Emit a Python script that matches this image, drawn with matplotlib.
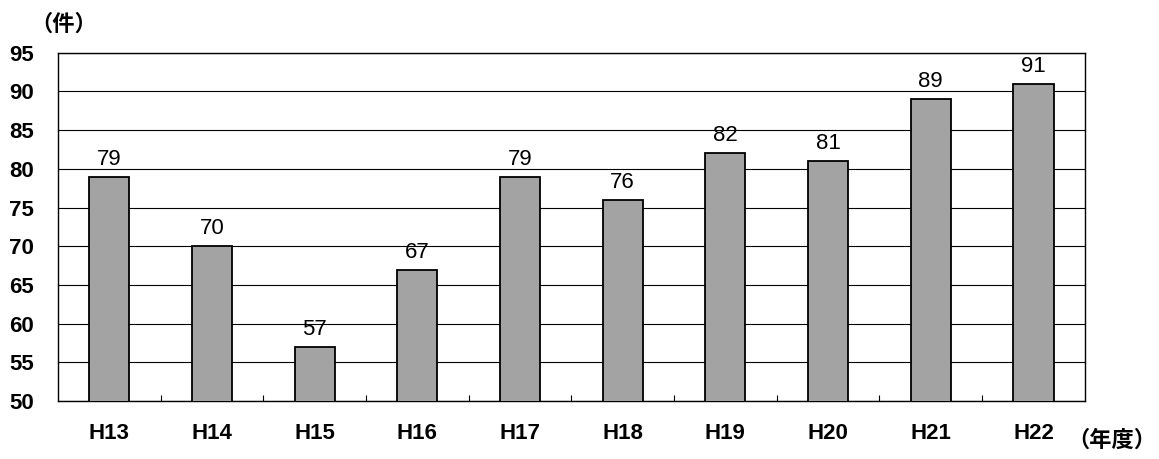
import numpy as np
import matplotlib.pyplot as plt

plt.rcParams['font.family'] = ['Liberation Sans', 'Noto Sans CJK JP']

years = ['H13', 'H14', 'H15', 'H16', 'H17', 'H18', 'H19', 'H20', 'H21', 'H22']
counts = [79, 70, 57, 67, 79, 76, 82, 81, 89, 91]
y_ticks = [50, 55, 60, 65, 70, 75, 80, 85, 90, 95]

fig = plt.figure(figsize=(11.59, 4.59), dpi=100)
ax = fig.add_axes([0.050, 0.126, 0.886, 0.759])

x = np.arange(len(years))
bars = ax.bar(x, counts, width=0.39, color='#a3a3a3', edgecolor='black',
              linewidth=1.3, zorder=3)

for xi, v in zip(x, counts):
    ax.annotate(str(v), (xi, v), xytext=(0, 5), textcoords='offset points',
                ha='center', va='bottom', fontsize=16)

ax.set_ylim(50, 95)
ax.set_xlim(-0.5, len(years) - 0.5)
ax.set_yticks(y_ticks)
ax.set_yticklabels([str(t) for t in y_ticks], fontsize=16, fontweight='bold')
ax.set_xticks(x)
ax.set_xticklabels(years, fontsize=16, fontweight='bold')
ax.set_xticks(np.arange(0.5, len(years) - 0.5, 1), minor=True)
ax.tick_params(axis='y', length=0, pad=17)
ax.tick_params(axis='x', which='major', length=0, pad=16)
ax.tick_params(axis='x', which='minor', direction='in', length=4, width=0.8)
ax.grid(axis='y', color='black', linewidth=0.8, zorder=0)
for s in ax.spines.values():
    s.set_color('black')
    s.set_linewidth(1.0)

fig.text(0.026, 0.948, '（件）', fontsize=16, fontweight='bold', va='center',
         family=['Noto Sans CJK JP'])
fig.text(0.921, 0.04, '（年度）', fontsize=16, fontweight='bold', va='center',
         family=['Noto Sans CJK JP'])

fig.savefig('out.png', dpi=100)
